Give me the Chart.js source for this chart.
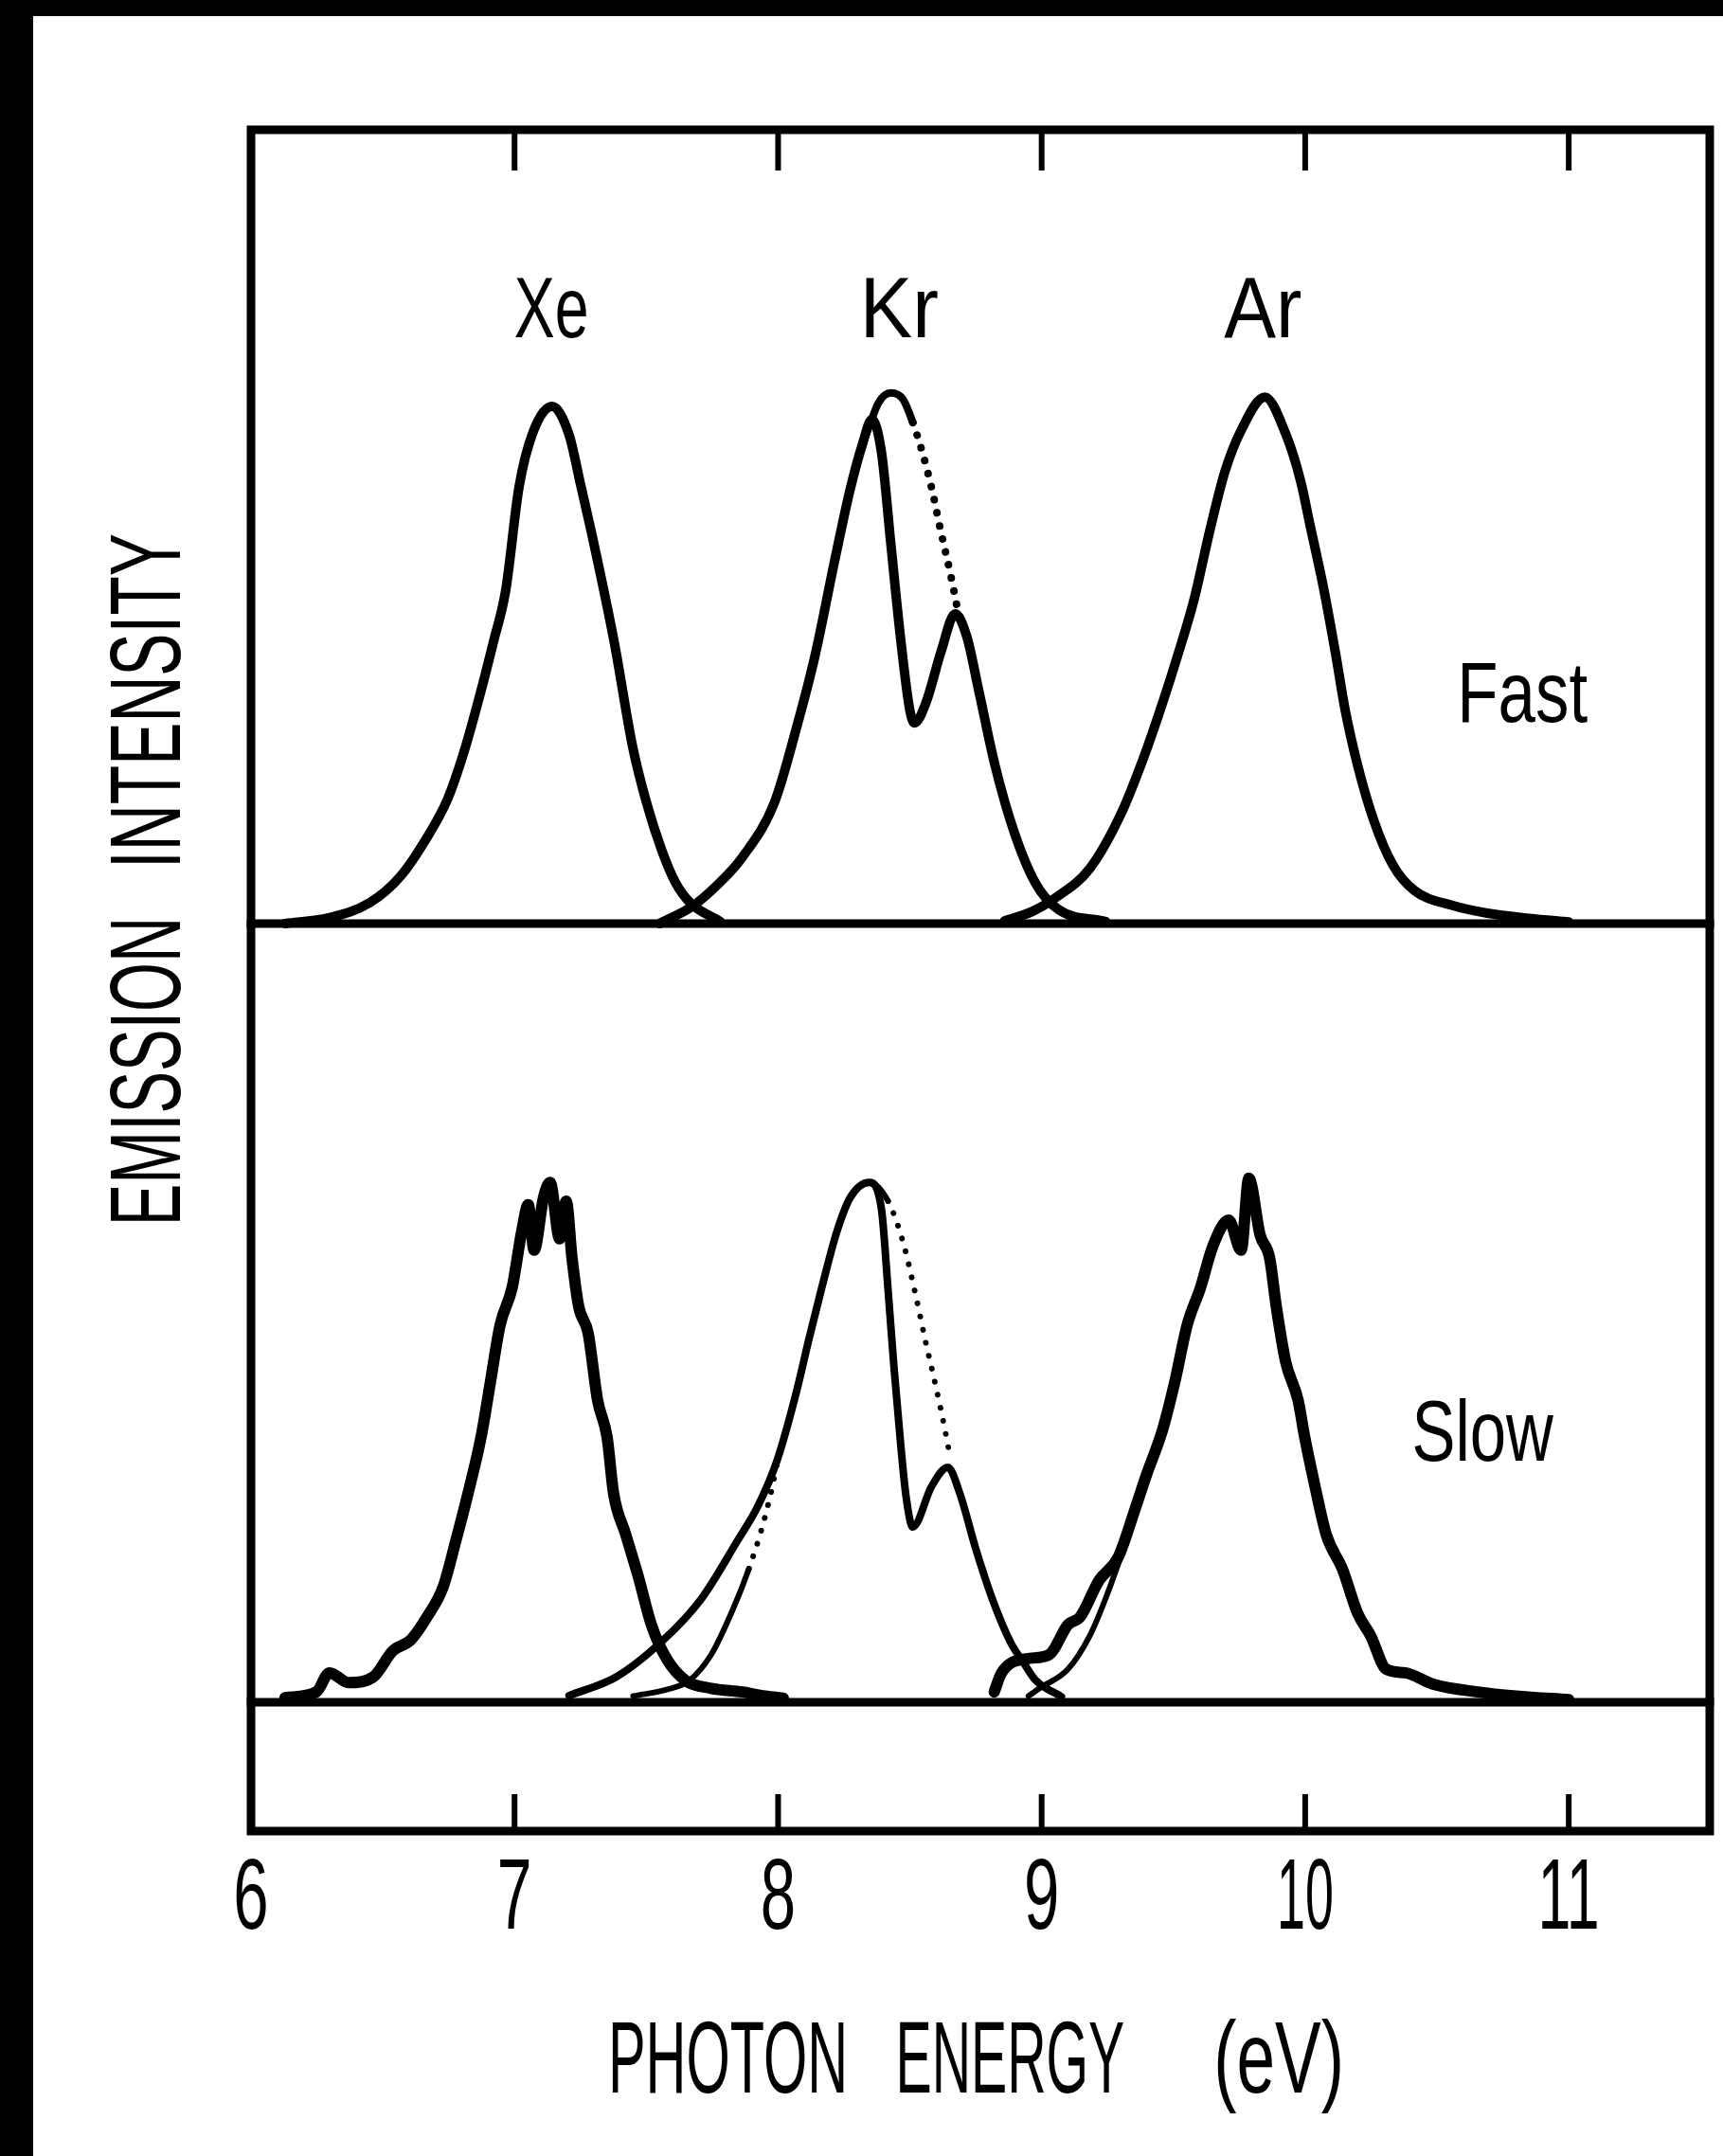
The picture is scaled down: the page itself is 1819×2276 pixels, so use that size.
<!DOCTYPE html>
<html>
<head>
<meta charset="utf-8">
<script src="https://cdn.jsdelivr.net/npm/chart.js@4.4.1/dist/chart.umd.min.js"></script>
<style>
  html, body { margin: 0; padding: 0; background: #fff; }
  #wrap { width: 1819px; height: 2276px; position: relative; }
  canvas { display: block; }
</style>
</head>
<body>
<div id="wrap"><canvas id="c" width="1819" height="2276"></canvas></div>
<script>
// ---------- data (photon energy in eV, intensity normalised to peak = 1) ----------
const xTicks = [6, 7, 8, 9, 10, 11];
const xTickLabels = ['6', '7', '8', '9', '10', '11'];
const gasLabels = ['Xe', 'Kr', 'Ar'];
const gasLabelX = [7.14, 8.46, 9.84];
const panelLabels = ['Fast', 'Slow'];
const xTitleWords = ['PHOTON', 'ENERGY', '(eV)'];
const yTitleWords = ['INTENSITY', 'EMISSION'];

// Fast component
const xeFast = [[6.13,0.0],[6.295,0.011],[6.45,0.04],[6.568,0.092],[6.66,0.16],[6.747,0.242],[6.81,0.335],[6.869,0.443],[6.92,0.545],[6.966,0.643],[7.017,0.844],[7.07,0.95],[7.142,1.0],[7.207,0.945],[7.25,0.85],[7.297,0.744],[7.379,0.542],[7.448,0.342],[7.50,0.235],[7.559,0.141],[7.61,0.08],[7.667,0.04],[7.78,0.004]];
const krFast = [[7.55,0.0],[7.674,0.033],[7.77,0.075],[7.864,0.128],[7.986,0.234],[8.069,0.377],[8.141,0.52],[8.213,0.698],[8.274,0.841],[8.32,0.927],[8.356,0.975],[8.392,0.912],[8.428,0.733],[8.464,0.555],[8.50,0.412],[8.518,0.388],[8.561,0.427],[8.619,0.527],[8.672,0.599],[8.716,0.555],[8.762,0.449],[8.823,0.306],[8.895,0.178],[8.978,0.077],[9.064,0.027],[9.243,0.004]];
const krFastUnabsorbed = [[8.32,0.927],[8.346,0.962],[8.381,1.007],[8.428,1.026],[8.475,1.013],[8.511,0.969],[8.547,0.912],[8.583,0.841],[8.619,0.755],[8.654,0.676],[8.68,0.61]];
const arFast = [[8.859,0.005],[8.967,0.024],[9.05,0.049],[9.182,0.106],[9.301,0.212],[9.387,0.321],[9.459,0.427],[9.517,0.52],[9.578,0.626],[9.639,0.762],[9.696,0.875],[9.757,0.954],[9.847,1.018],[9.926,0.947],[9.983,0.855],[10.019,0.769],[10.07,0.648],[10.116,0.52],[10.152,0.412],[10.199,0.306],[10.26,0.2],[10.332,0.114],[10.414,0.064],[10.558,0.035],[10.691,0.02],[10.85,0.01],[11.0,0.003]];

// Slow component
const xeSlow = [[6.129,0.009],[6.248,0.02],[6.298,0.057],[6.37,0.038],[6.464,0.049],[6.537,0.099],[6.607,0.121],[6.668,0.165],[6.729,0.223],[6.776,0.31],[6.823,0.403],[6.873,0.513],[6.909,0.621],[6.945,0.729],[6.991,0.802],[7.027,0.91],[7.052,0.962],[7.074,0.874],[7.11,0.976],[7.135,1.005],[7.171,0.896],[7.196,0.969],[7.218,0.859],[7.243,0.766],[7.279,0.714],[7.315,0.584],[7.351,0.513],[7.376,0.403],[7.422,0.324],[7.469,0.244],[7.519,0.15],[7.577,0.084],[7.649,0.042],[7.746,0.027],[7.864,0.02],[7.95,0.012],[8.02,0.008]];
const krSlow = [[7.207,0.013],[7.386,0.049],[7.566,0.121],[7.71,0.201],[7.843,0.31],[7.925,0.381],[7.997,0.469],[8.069,0.599],[8.116,0.7],[8.166,0.802],[8.223,0.91],[8.274,0.976],[8.346,1.005],[8.392,0.954],[8.417,0.799],[8.439,0.652],[8.464,0.505],[8.486,0.396],[8.511,0.339],[8.583,0.418],[8.644,0.454],[8.69,0.403],[8.751,0.295],[8.812,0.201],[8.884,0.114],[8.931,0.077],[8.978,0.042],[9.075,0.011]];
const krSlowFit = [[7.45,0.012],[7.58,0.025],[7.663,0.042],[7.746,0.092],[7.828,0.179],[7.889,0.258],[7.936,0.332],[7.972,0.403],[7.997,0.462],[8.033,0.533],[8.069,0.599],[8.116,0.7],[8.166,0.802],[8.223,0.91],[8.274,0.976],[8.346,1.005],[8.417,0.969],[8.475,0.888],[8.525,0.78],[8.561,0.694],[8.597,0.614],[8.633,0.527],[8.654,0.47]];
const arSlow = [[8.82,0.02],[8.848,0.057],[8.942,0.084],[9.028,0.092],[9.1,0.15],[9.146,0.165],[9.218,0.236],[9.29,0.28],[9.351,0.368],[9.398,0.44],[9.459,0.527],[9.506,0.621],[9.552,0.729],[9.603,0.802],[9.649,0.881],[9.71,0.932],[9.757,0.874],[9.786,1.013],[9.829,0.903],[9.865,0.859],[9.89,0.766],[9.926,0.658],[9.973,0.584],[9.998,0.513],[10.034,0.425],[10.08,0.324],[10.141,0.258],[10.199,0.172],[10.249,0.128],[10.307,0.064],[10.379,0.057],[10.486,0.035],[10.655,0.02],[10.8,0.012],[11.0,0.005]];
const arSlowFit = [[8.95,0.012],[8.992,0.027],[9.1,0.064],[9.182,0.128],[9.243,0.201],[9.315,0.304],[9.40,0.44]];

// ---------- helpers ----------
const pts = arr => arr.map(([x, y]) => ({ x, y }));
const DOTS = [0.1, 14];
const FONT = '"Liberation Sans", Arial, sans-serif';

function line(data, axis, width, extra) {
  return Object.assign({
    data: pts(data), yAxisID: axis, borderColor: '#000', borderWidth: width,
    fill: false, pointRadius: 0, cubicInterpolationMode: 'monotone',
    borderCapStyle: 'round', borderJoinStyle: 'round'
  }, extra || {});
}

function drawText(ctx, text, cx, baseY, size, sx) {
  ctx.save();
  ctx.font = size + 'px ' + FONT;
  ctx.translate(cx, baseY);
  ctx.scale(sx, 1);
  ctx.textAlign = 'center';
  ctx.textBaseline = 'alphabetic';
  ctx.fillStyle = '#000';
  ctx.fillText(text, 0, 0);
  ctx.restore();
}
function fitScale(ctx, text, size, targetW) {
  ctx.save(); ctx.font = size + 'px ' + FONT;
  const w = ctx.measureText(text).width; ctx.restore();
  return targetW / w;
}

const framePlugin = {
  id: 'frame',
  beforeDraw(chart) {
    const ctx = chart.ctx;
    ctx.save();
    ctx.fillStyle = '#fff'; ctx.fillRect(0, 0, chart.width, chart.height);
    ctx.fillStyle = '#000';
    ctx.fillRect(0, 0, chart.width, 17);
    ctx.fillRect(0, 0, 35, chart.height);
    ctx.restore();
  },
  afterDatasetsDraw(chart) {
    const { ctx, chartArea: a, scales } = chart;
    const sx = scales.x, yF = scales.yFast, yS = scales.ySlow;
    ctx.save();
    ctx.strokeStyle = '#000';
    ctx.lineWidth = 9; ctx.lineCap = 'square';
    ctx.strokeRect(a.left, a.top, a.right - a.left, a.bottom - a.top);
    [yF.getPixelForValue(0), yS.getPixelForValue(0)].forEach(py => {
      ctx.beginPath(); ctx.moveTo(a.left, py); ctx.lineTo(a.right, py); ctx.stroke();
    });
    ctx.lineWidth = 6; ctx.lineCap = 'butt';
    xTicks.forEach(v => {
      if (v === xTicks[0]) return;
      const px = sx.getPixelForValue(v);
      ctx.beginPath(); ctx.moveTo(px, a.top); ctx.lineTo(px, a.top + 43); ctx.stroke();
      ctx.beginPath(); ctx.moveTo(px, a.bottom); ctx.lineTo(px, a.bottom - 39); ctx.stroke();
    });
    ctx.restore();

    // tick labels
    const tickW = [37, 35, 37, 37, 57, 62];
    xTicks.forEach((v, i) => drawText(ctx, xTickLabels[i], sx.getPixelForValue(v), a.bottom + 103, 105,
      Math.min(0.64, fitScale(ctx, xTickLabels[i], 105, tickW[i] * 1.05))));

    // x title
    const tW = [239, 228, 130], tX = [7.81, 8.88, 9.90];
    xTitleWords.forEach((w, i) => drawText(ctx, w, sx.getPixelForValue(tX[i]), a.bottom + 276, 107, fitScale(ctx, w, 107, tW[i] * 1.06)));

    // y title (rotated)
    const yW = [334, 308], yC = [a.top + 603, a.top + 994];
    yTitleWords.forEach((w, i) => {
      ctx.save();
      ctx.translate(a.left - 75, yC[i]);
      ctx.rotate(-Math.PI / 2);
      drawText(ctx, w, 0, 0, 106, fitScale(ctx, w, 106, yW[i] * 1.06));
      ctx.restore();
    });

    // gas labels
    const gW = [73, 77, 76];
    gasLabels.forEach((g, i) => drawText(ctx, g, sx.getPixelForValue(gasLabelX[i]), yF.getPixelForValue(1.134), 91, fitScale(ctx, g, 91, gW[i] * 1.08)));
    // panel labels
    drawText(ctx, panelLabels[0], sx.getPixelForValue(10.824), yF.getPixelForValue(0.39), 91, fitScale(ctx, panelLabels[0], 91, 130 * 1.06));
    drawText(ctx, panelLabels[1], sx.getPixelForValue(10.673), yS.getPixelForValue(0.467), 91, fitScale(ctx, panelLabels[1], 91, 141 * 1.06));
  }
};

new Chart(document.getElementById('c'), {
  type: 'line',
  data: {
    datasets: [
      line(xeFast, 'yFast', 10),
      line(krFast, 'yFast', 10),
      line(krFastUnabsorbed, 'yFast', 8, { segment: { borderDash: c => c.p0.parsed.x >= 8.50 ? DOTS : undefined } }),
      line(arFast, 'yFast', 10),
      line(xeSlow, 'ySlow', 12),
      line(krSlow, 'ySlow', 8),
      line(krSlowFit, 'ySlow', 6, { segment: { borderDash: c => ((c.p0.parsed.x >= 7.87 && c.p0.parsed.x < 8.03) || c.p0.parsed.x >= 8.39) ? DOTS : undefined } }),
      line(arSlow, 'ySlow', 12),
      line(arSlowFit, 'ySlow', 6)
    ]
  },
  options: {
    responsive: false,
    animation: false,
    devicePixelRatio: 1,
    layout: { padding: { left: 265, top: 137, right: 14, bottom: 343 } },
    plugins: { legend: { display: false }, tooltip: { enabled: false }, title: { display: false } },
    scales: {
      x: { type: 'linear', min: 6, max: 11.535, display: false },
      yFast: { type: 'linear', min: -1.755, max: 1.535, display: false },
      ySlow: { type: 'linear', min: -0.249, max: 3.040, display: false }
    }
  },
  plugins: [framePlugin]
});
</script>
</body>
</html>
